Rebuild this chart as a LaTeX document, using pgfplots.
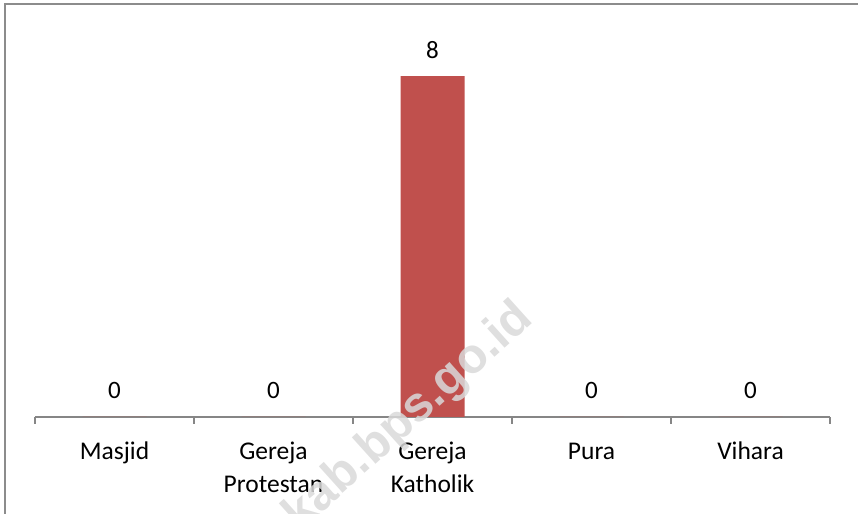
\documentclass[border=0pt]{standalone}
\usepackage{pgfplots}
\pgfplotsset{compat=1.18}
\usepackage{fontspec}
\setmainfont{Carlito}
\newfontfamily\wmfont{Liberation Sans}
\definecolor{barred}{HTML}{C0504D}
\definecolor{axgray}{HTML}{868686}
\definecolor{framegray}{HTML}{8C8C8C}
\begin{document}
\begin{tikzpicture}
\useasboundingbox (0,0) rectangle (858bp,514bp);
\begin{axis}[
  at={(35bp,97bp)}, anchor=south west,
  scale only axis, width=795bp, height=383.6bp,
  xmin=-0.5, xmax=4.5, ymin=0, ymax=9,
  axis y line=none,
  axis x line*=bottom,
  x axis line style={draw=axgray, line width=1.8bp, -},
  xtick={0,1,2,3,4},
  xticklabels={Masjid,{Gereja\\Protestan},{Gereja\\Katholik},\vphantom{d}Pura,Vihara},
  major tick length=0pt,
  minor xtick={-0.5,0.5,1.5,2.5,3.5,4.5},
  minor tick length=7bp,
  tick align=outside,
  xtick pos=bottom,
  minor tick style={draw=axgray, line width=1.8bp},
  xticklabel style={font=\fontsize{25.5bp}{32.5bp}\selectfont, align=center, anchor=north, inner sep=0pt, yshift=-25bp},
  /pgf/number format/assume math mode=true,
  nodes near coords,
  every node near coord/.append style={font=\fontsize{25bp}{32bp}\selectfont, inner sep=0pt, yshift=18bp, anchor=base},
  clip=false,
]
\addplot[ybar, bar width=64bp, fill=barred, draw=none] coordinates {(0,0) (1,0) (2,8) (3,0) (4,0)};
\end{axis}
\node[rotate=42, anchor=base east, text=black!15, opacity=0.85, font=\wmfont\bfseries\fontsize{49bp}{50bp}\selectfont, inner sep=0pt] at (535bp,193bp) {kab.bps.go.id};
\draw[framegray, line width=2bp] (4.5bp,0) -- (4.5bp,509.5bp) -- (858bp,509.5bp);
\end{tikzpicture}
\end{document}
